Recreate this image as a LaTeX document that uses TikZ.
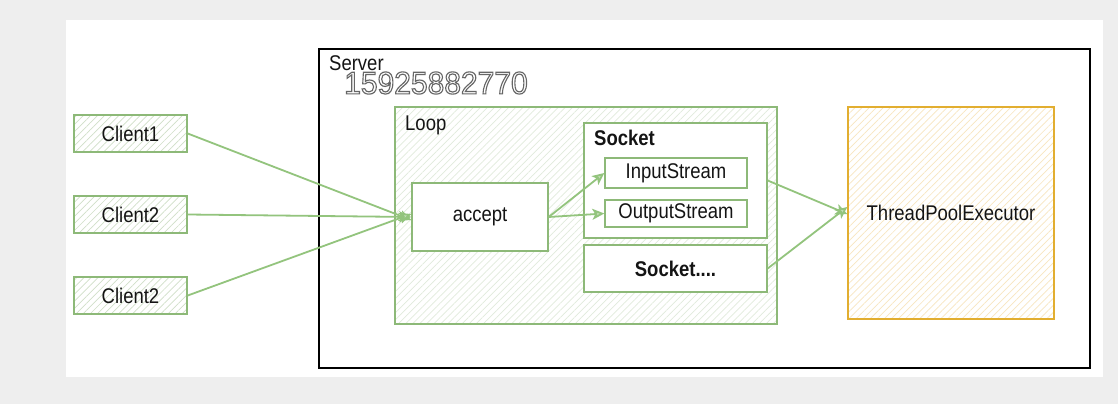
\documentclass[tikz,border=0pt]{standalone}
\usepackage{fontspec}
\setmainfont{Liberation Sans}
\usetikzlibrary{patterns.meta,arrows.meta}
\definecolor{gstroke}{HTML}{8DB978}
\definecolor{gline}{HTML}{93C47D}
\definecolor{ghatch}{HTML}{D0DFC8}
\definecolor{ghatchl}{HTML}{E1EBDC}
\definecolor{ystroke}{HTML}{E2AE30}
\definecolor{yhatch}{HTML}{F8E6C0}
\definecolor{bgc}{HTML}{EEEEEE}
\definecolor{txt}{HTML}{141414}
\newcommand{\vt}[1]{\scalebox{1}[1.15]{#1}}
\begin{document}
\begin{tikzpicture}[x=1pt,y=-1pt,
  every node/.style={font=\fontsize{18.5}{20}\selectfont, text=txt},
  box/.style={draw=gstroke, line width=1.4pt, fill=white, inner sep=0pt, anchor=center},
  hatchbox/.style={draw=gstroke, line width=1.4pt, inner sep=0pt, anchor=center,
     pattern={Lines[angle=45,distance=5pt,line width=0.7pt]}, pattern color=ghatch},
  loopbox/.style={hatchbox, pattern color=ghatchl},
  poolbox/.style={draw=ystroke, line width=1.4pt, inner sep=0pt, anchor=center,
     pattern={Lines[angle=45,distance=5pt,line width=0.7pt]}, pattern color=yhatch},
  conn/.style={draw=gline, line width=1.8pt, -{Stealth[length=12pt,width=11pt,inset=3pt,fill=gline!55]}},
  lbl/.style={anchor=west, inner sep=0pt}
]
\useasboundingbox (0,0) rectangle (1118,404);
\fill[bgc] (0,0) rectangle (1118,404);
\fill[white] (66,20) rectangle (1103,377);

% server container
\node[draw=black, line width=1.4pt, inner sep=0pt, minimum width=771pt, minimum height=319pt] (server) at (704.5,208.5) {};
\node[lbl] (serverlbl) at (329,63) {\vt{Server}};

% watermark (outlined text)
\node[anchor=center, inner sep=0pt, font=\fontsize{30}{32}\selectfont, text=white] (wm) at (436,83)
  {\scalebox{1}[1.05]{\special{pdf:code 2 Tr 1.1 w 0.4 G 1 g}15925882770\special{pdf:code 0 Tr}}};

% loop container
\node[loopbox, minimum width=382pt, minimum height=217pt] (loop) at (586,215.5) {};
\node[lbl] (looplbl) at (405,125) {\vt{Loop}};

% clients
\node[hatchbox, minimum width=113pt, minimum height=37pt] (c1) at (130.5,133.5) {\vt{Client1}};
\node[hatchbox, minimum width=113pt, minimum height=37pt] (c2) at (130.5,214.5) {\vt{Client2}};
\node[hatchbox, minimum width=113pt, minimum height=37pt] (c3) at (130.5,295.5) {\vt{Client2}};

% accept
\node[box, minimum width=136pt, minimum height=68pt] (accept) at (480,217) {\vt{accept}};

% socket
\node[box, minimum width=183pt, minimum height=115pt] (socket) at (675.5,180.5) {};
\node[lbl, font=\fontsize{18.5}{20}\selectfont\bfseries] (socketlbl) at (594,138) {\vt{Socket}};
\node[box, minimum width=142pt, minimum height=30pt] (in) at (676,173) {\vt{InputStream}};
\node[box, minimum width=142pt, minimum height=27pt] (out) at (676,213.5) {\vt{OutputStream}};
\node[box, minimum width=183pt, minimum height=47pt, font=\fontsize{18.5}{20}\selectfont\bfseries] (sdots) at (675.5,268.5) {\vt{Socket....}};

% pool
\node[poolbox, minimum width=206pt, minimum height=212pt] (pool) at (951,213) {\vt{ThreadPoolExecutor}};

% connectors
\draw[conn] (c1.east) -- ([yshift=-3pt]accept.west);
\draw[conn] (c2.east) -- (accept.west);
\draw[conn] (c3.east) -- ([yshift=3pt]accept.west);
\draw[conn] (accept.east) -- (in.west);
\draw[conn] (accept.east) -- (out.west);
\draw[conn] (socket.east) -- ([yshift=-1pt]pool.west);
\draw[conn] (sdots.east) -- ([yshift=6pt]pool.west);
\end{tikzpicture}
\end{document}
